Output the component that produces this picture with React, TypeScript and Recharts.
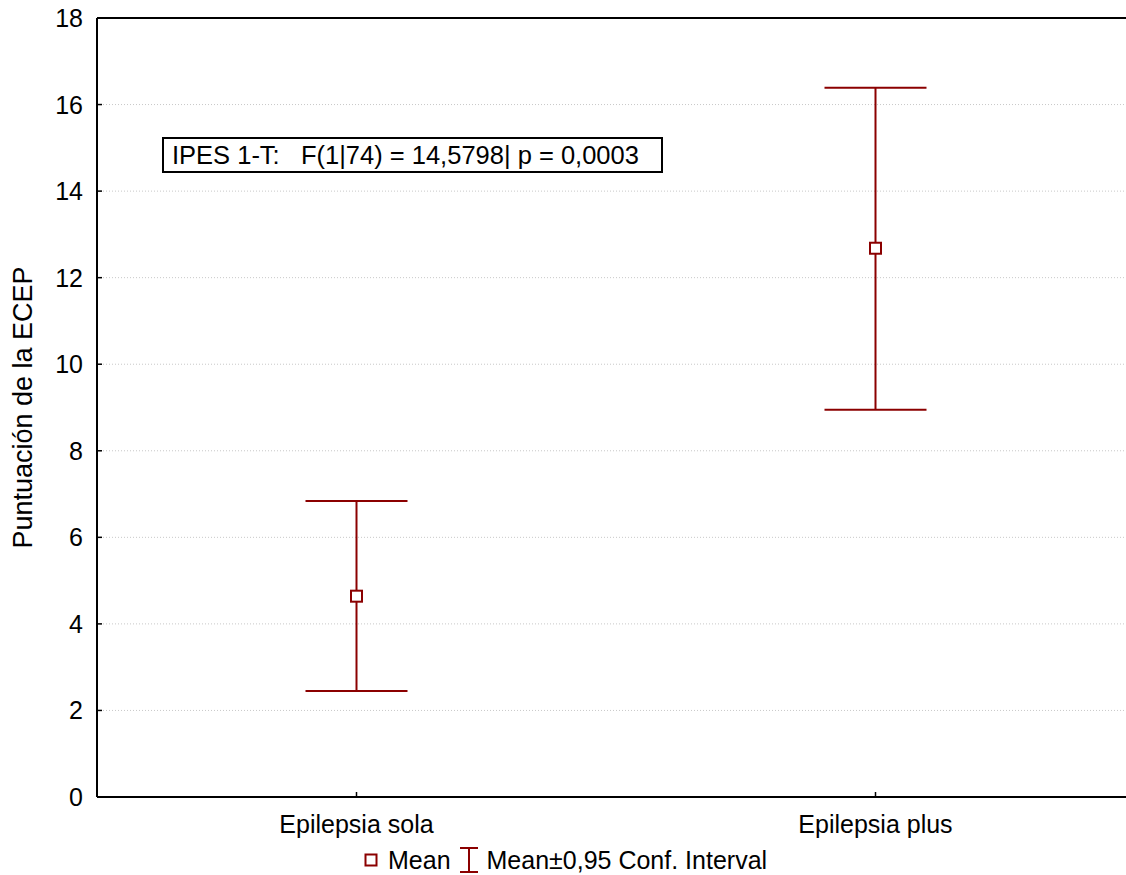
import { ComposedChart, Scatter, ErrorBar, XAxis, YAxis, CartesianGrid, ReferenceLine, Legend } from 'recharts';

// group means and 95% confidence limits
const categories = ['Epilepsia sola', 'Epilepsia plus'];
const means = [4.64, 12.68];
const lowerCI = [2.45, 8.95];
const upperCI = [6.84, 16.39];
const yTicks = [0, 2, 4, 6, 8, 10, 12, 14, 16, 18];

const RED = '#8B0000';
const FONT = '"Liberation Sans", Arial, sans-serif';

const data = categories.map((name, i) => ({
    name,
    mean: means[i],
    err: [means[i] - lowerCI[i], upperCI[i] - means[i]],
}));

const YTick = (props: any) => {
    const { x, y, payload } = props;
    return (
        <g>
            <line x1={x + 14} x2={x + 19} y1={y} y2={y} stroke="#000" strokeWidth={1.5} />
            <text x={x} y={y} textAnchor="end" dominantBaseline="central" fontSize={25} fontFamily={FONT} fill="#000">
                {payload.value}
            </text>
        </g>
    );
};

const XTick = (props: any) => {
    const { x, y, payload } = props;
    return (
        <g>
            <line x1={x} x2={x} y1={y - 18} y2={y - 23} stroke="#000" strokeWidth={1.5} />
            <text x={x} y={y + 18} textAnchor="middle" fontSize={25} fontFamily={FONT} fill="#000">
                {payload.value}
            </text>
        </g>
    );
};

const MeanSquare = (props: any) => {
    const { cx, cy } = props;
    return <rect x={cx - 5.5} y={cy - 5.5} width={11} height={11} fill="#fff" stroke={RED} strokeWidth={2} />;
};

const LegendBox = () => (
    <div style={{ display: 'flex', alignItems: 'center', height: 30, fontSize: 25, fontFamily: FONT, color: '#000', whiteSpace: 'nowrap' }}>
        <svg width={14} height={14}>
            <rect x={1.5} y={1.5} width={11} height={11} fill="#fff" stroke={RED} strokeWidth={2} />
        </svg>
        <span style={{ marginLeft: 10 }}>Mean</span>
        <svg width={20} height={26} style={{ marginLeft: 8 }}>
            <line x1={1} x2={19} y1={1} y2={1} stroke={RED} strokeWidth={2} />
            <line x1={10} x2={10} y1={1} y2={25} stroke={RED} strokeWidth={2} />
            <line x1={1} x2={19} y1={25} y2={25} stroke={RED} strokeWidth={2} />
        </svg>
        <span style={{ marginLeft: 8 }}>Mean±0,95 Conf. Interval</span>
    </div>
);

export default function App() {
    return (
        <div style={{ position: 'absolute', left: 0, top: 0, width: 1126, height: 875, overflow: 'hidden', background: '#fff' }}>
            <ComposedChart width={1140} height={875} data={data} margin={{ top: 18, right: 5, bottom: 0, left: 0 }}>
                <CartesianGrid vertical={false} stroke="#c8c8c8" strokeDasharray="1 2" />
                <XAxis
                    dataKey="name"
                    type="category"
                    scale="band"
                    height={48}
                    tickSize={5}
                    tickMargin={13}
                    tickLine={false}
                    tick={<XTick />}
                    axisLine={{ stroke: '#000', strokeWidth: 2 }}
                />
                <YAxis
                    type="number"
                    domain={[0, 18]}
                    ticks={yTicks}
                    width={97}
                    tickSize={5}
                    tickMargin={9}
                    tickLine={false}
                    tick={<YTick />}
                    axisLine={{ stroke: '#000', strokeWidth: 2 }}
                    label={{
                        content: ({ viewBox }: any) => {
                            const cx = 23;
                            const cy = viewBox.y + viewBox.height / 2;
                            return (
                                <text x={cx} y={cy} transform={`rotate(-90 ${cx} ${cy})`} textAnchor="middle" dominantBaseline="central" fontSize={27} fontFamily={FONT} fill="#000">
                                    Puntuación de la ECEP
                                </text>
                            );
                        },
                    }}
                />
                <ReferenceLine y={18} stroke="#000" strokeWidth={2} />
                <Scatter dataKey="mean" shape={<MeanSquare />} isAnimationActive={false}>
                    <ErrorBar dataKey="err" direction="y" width={51} stroke={RED} strokeWidth={2} isAnimationActive={false} />
                </Scatter>
                <Legend verticalAlign="bottom" content={<LegendBox />} wrapperStyle={{ left: 364, height: 30, width: 440 }} />
            </ComposedChart>
            <div
                style={{
                    position: 'absolute', left: 162, top: 137, width: 489, height: 32,
                    border: '2px solid #000', background: '#fff',
                    fontFamily: FONT, fontSize: 25.5, lineHeight: '32px', whiteSpace: 'pre', paddingLeft: 8, boxSizing: 'content-box',
                }}
            >
                {'IPES 1-T:   F(1|74) = 14,5798| p = 0,0003'}
            </div>
        </div>
    );
}
